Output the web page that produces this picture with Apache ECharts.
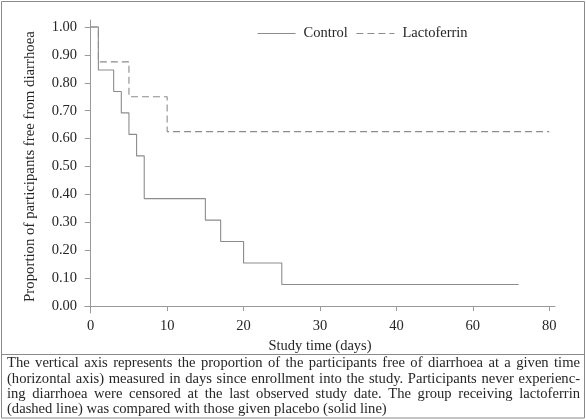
<!DOCTYPE html>
<html>
<head>
<meta charset="utf-8">
<script src="https://cdn.jsdelivr.net/npm/echarts@6/dist/echarts.min.js"></script>
<style>html,body{margin:0;padding:0;background:#fff}#c{width:586px;height:420px}</style>
</head>
<body>
<div id="c"></div>
<script>
// Data
var controlDays  = [0, 1, 3, 4, 5, 6, 7, 15, 17, 20, 25, 56];
var controlSurv  = [1.00, 0.846, 0.769, 0.692, 0.615, 0.538, 0.385, 0.308, 0.231, 0.154, 0.077, 0.077];
var lactoDays    = [0, 1, 5, 10, 60];
var lactoSurv    = [1.00, 0.875, 0.75, 0.625, 0.625];
var xTickValues  = [0, 10, 20, 30, 40, 50, 60];
var xTickLabels  = ['0', '10', '20', '30', '40', '60', '80'];
var yTickValues  = [0, 0.1, 0.2, 0.3, 0.4, 0.5, 0.6, 0.7, 0.8, 0.9, 1.0];
var captionLines = [
  'The vertical axis represents the proportion of the participants free of diarrhoea at a given time',
  '(horizontal axis) measured in days since enrollment into the study. Participants never experienc-',
  'ing diarrhoea were censored at the last observed study date. The group receiving lactoferrin',
  '(dashed line) was compared with those given placebo (solid line)'
];

var FONT = '"Liberation Serif", serif';
var TXT = '#262626';
var AX = '#9a9a9a';
var LINE = '#8c8c8c';

function pairs(xs, ys){ return xs.map(function(x,i){ return [x, ys[i]]; }); }

// caption layout (justified)
var cv = document.createElement('canvas').getContext('2d');
var capSize = 14.6;
cv.font = capSize + 'px ' + FONT;
var capLeft = 7, capRight = 580, capTop = 363.5, capLH = 15.3;
var graphics = [
  {type:'rect', shape:{x:1.5,y:1.5,width:583,height:416.5}, style:{fill:null, stroke:'#8a8a8a', lineWidth:1}, silent:true},
  {type:'line', shape:{x1:1.5,y1:354.5,x2:584.5,y2:354.5}, style:{stroke:'#8a8a8a', lineWidth:1}, silent:true}
];
captionLines.forEach(function(line, li){
  var words = line.split(' ');
  var y = capTop + li*capLH;
  var last = li === captionLines.length - 1;
  var widths = words.map(function(w){ return cv.measureText(w).width; });
  var total = widths.reduce(function(a,b){return a+b;},0);
  var gap = last ? cv.measureText(' ').width : (capRight - capLeft - total) / (words.length - 1);
  var x = capLeft;
  words.forEach(function(w, wi){
    graphics.push({type:'text', x:x, y:y, silent:true,
      style:{text:w, font: capSize + 'px ' + FONT, fill:TXT, textVerticalAlign:'middle', textAlign:'left'}});
    x += widths[wi] + gap;
  });
});

var chart = echarts.init(document.getElementById('c'), null, {renderer:'canvas'});
chart.setOption({
  animation:false,
  backgroundColor:'#fff',
  grid:{left:85, right:31, top:20, bottom:107, containLabel:false},
  legend:{
    top:26, left:257, padding:0, itemWidth:38, itemHeight:14, itemGap:8,
    itemStyle:{opacity:0},
    lineStyle:{width:1.1},
    textStyle:{fontFamily:FONT, fontSize:14.5, color:TXT, padding:[0,0,0,3]},
    data:['Control','Lactoferrin']
  },
  xAxis:{
    type:'value', min:-0.75, max:60.75,
    axisLine:{show:true, lineStyle:{color:AX, width:1}},
    axisTick:{show:true, length:5, customValues:xTickValues, lineStyle:{color:AX}},
    axisLabel:{customValues:xTickValues, margin:6, fontFamily:FONT, fontSize:14.5, color:TXT,
      formatter:function(v){ return xTickLabels[Math.round(v/10)]; }},
    splitLine:{show:false},
    name:'Study time (days)', nameLocation:'middle', nameGap:25,
    nameTextStyle:{fontFamily:FONT, fontSize:14.5, color:TXT}
  },
  yAxis:{
    type:'value', min:-0.025, max:1.025,
    axisLine:{show:true, lineStyle:{color:AX, width:1}},
    axisTick:{show:true, length:6, customValues:yTickValues, lineStyle:{color:AX}},
    axisLabel:{customValues:yTickValues, margin:8, fontFamily:FONT, fontSize:14.5, color:TXT,
      formatter:function(v){ return v.toFixed(2); }},
    splitLine:{show:false},
    name:'Proportion of participants free from diarrhoea', nameLocation:'middle', nameGap:47,
    nameTextStyle:{fontFamily:FONT, fontSize:14.8, color:TXT}
  },
  series:[
    {name:'Control', type:'line', step:'end', data:pairs(controlDays, controlSurv),
      symbol:'none', lineStyle:{color:LINE, width:1.1, type:'solid'}, itemStyle:{color:LINE}},
    {name:'Lactoferrin', type:'line', step:'end', data:pairs(lactoDays, lactoSurv),
      symbol:'none', lineStyle:{color:LINE, width:1.1, type:[7,4]}, itemStyle:{color:LINE}}
  ],
  graphic:graphics
});
</script>
</body>
</html>
